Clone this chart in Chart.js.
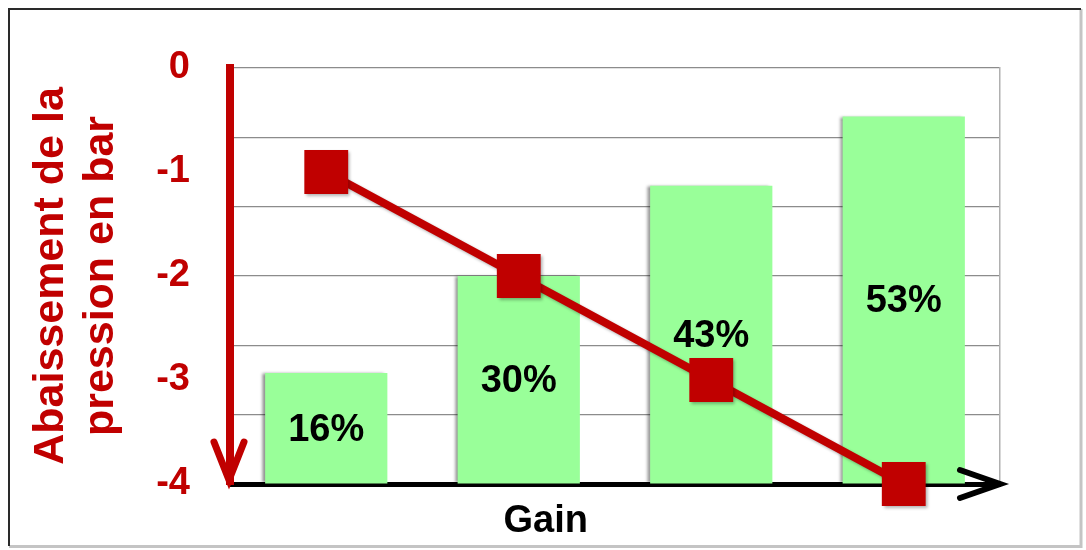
<!DOCTYPE html>
<html lang="fr">
<head>
<meta charset="utf-8">
<title>Gain et abaissement de la pression</title>
<script src="https://cdn.jsdelivr.net/npm/chart.js@4/dist/chart.umd.min.js"></script>
<style>
  html, body { margin: 0; padding: 0; background: #fff; }
  #wrap { width: 1086px; height: 550px; position: relative; }
</style>
</head>
<body>
<div id="wrap"><canvas id="chart" width="1086" height="550"></canvas></div>
<script>
(() => {
  // données
  const categories = ['Étape 1', 'Étape 2', 'Étape 3', 'Étape 4'];
  const gains = [16, 30, 43, 53];            // gain en %
  const pressure = [-1, -2, -3, -4];         // abaissement de la pression (bar)
  const pressureTicks = [0, -1, -2, -3, -4];

  const RED = '#C00000';
  const GREEN = '#99FF99';
  const FONT = '"Liberation Sans", Arial, sans-serif';

  // cadre extérieur + fond blanc
  const framePlugin = {
    id: 'frame',
    beforeDraw(chart) {
      const ctx = chart.ctx;
      ctx.save();
      ctx.fillStyle = '#fff';
      ctx.fillRect(0, 0, chart.width, chart.height);
      ctx.lineWidth = 3;
      ctx.strokeStyle = '#c4c4c4';
      ctx.beginPath();
      ctx.moveTo(1081, 9); ctx.lineTo(1081, 546.5); ctx.lineTo(9, 546.5);
      ctx.stroke();
      ctx.lineWidth = 2;
      ctx.strokeStyle = '#2a2a2a';
      ctx.beginPath();
      ctx.moveTo(9, 546); ctx.lineTo(9, 9); ctx.lineTo(1081, 9);
      ctx.stroke();
      ctx.restore();
    }
  };

  // ombre des barres, puis étiquettes de pourcentage
  const barDecor = {
    id: 'barDecor',
    beforeDatasetDraw(chart, args) {
      const ctx = chart.ctx;
      ctx.save();
      if (args.meta.type === 'bar') {
        ctx.shadowColor = 'rgba(0,0,0,0.45)';
        ctx.shadowOffsetX = -3;
        ctx.shadowOffsetY = 0;
        ctx.shadowBlur = 3;
      } else {
        ctx.shadowColor = 'rgba(0,0,0,0.3)';
        ctx.shadowOffsetX = 2;
        ctx.shadowOffsetY = 2;
        ctx.shadowBlur = 3;
      }
    },
    afterDatasetDraw(chart, args) {
      const ctx = chart.ctx;
      ctx.restore();
      if (args.meta.type !== 'bar') return;
      ctx.save();
      ctx.font = 'bold 38px ' + FONT;
      ctx.fillStyle = '#000';
      ctx.textAlign = 'center';
      ctx.textBaseline = 'middle';
      args.meta.data.forEach((bar, i) => {
        const p = bar.getProps(['x', 'y', 'base'], true);
        ctx.fillText(gains[i] + '%', p.x, (p.y + p.base) / 2 + 2);
      });
      ctx.restore();
    }
  };

  // flèches des axes et titre « Gain »
  const arrows = {
    id: 'arrows',
    afterDraw(chart) {
      const ctx = chart.ctx;
      const area = chart.chartArea;
      const x0 = chart.scales.yP.right - 1;
      ctx.save();
      ctx.lineCap = 'round';
      ctx.lineJoin = 'miter';
      // flèche verticale rouge vers le bas
      ctx.strokeStyle = RED;
      ctx.lineWidth = 7;
      ctx.beginPath();
      ctx.moveTo(x0 - 15, area.bottom - 42);
      ctx.lineTo(x0, area.bottom - 4);
      ctx.lineTo(x0 + 15, area.bottom - 42);
      ctx.stroke();
      // flèche horizontale noire
      ctx.strokeStyle = '#000';
      ctx.lineWidth = 6;
      ctx.beginPath();
      ctx.moveTo(area.right - 40, area.bottom - 14);
      ctx.lineTo(area.right, area.bottom);
      ctx.lineTo(area.right - 40, area.bottom + 14);
      ctx.stroke();
      // titre de l'axe horizontal
      ctx.font = 'bold 38px ' + FONT;
      ctx.fillStyle = '#000';
      ctx.textAlign = 'center';
      ctx.textBaseline = 'middle';
      ctx.fillText('Gain', area.left + area.width * 0.41, 522);
      ctx.restore();
    }
  };

  new Chart(document.getElementById('chart'), {
    data: {
      labels: categories,
      datasets: [
        {
          type: 'line',
          label: 'Abaissement de la pression',
          data: pressure,
          yAxisID: 'yP',
          borderColor: RED,
          backgroundColor: RED,
          borderWidth: 8,
          pointStyle: 'rect',
          pointRadius: 31,
          pointBorderWidth: 0,
          pointBackgroundColor: RED,
          tension: 0,
          clip: false,
          order: 0
        },
        {
          type: 'bar',
          label: 'Gain',
          data: gains,
          yAxisID: 'yGain',
          backgroundColor: GREEN,
          borderWidth: 0,
          categoryPercentage: 1,
          barPercentage: 0.635,
          order: 1
        }
      ]
    },
    options: {
      responsive: false,
      animation: false,
      layout: { padding: { left: 10, top: 68, right: 86, bottom: 0 } },
      plugins: { legend: { display: false }, tooltip: { enabled: false } },
      scales: {
        x: {
          type: 'category',
          offset: true,
          grid: { display: false, drawTicks: false },
          ticks: { display: false },
          border: { display: true, color: '#000', width: 5 },
          afterFit: s => { s.height = 66; }
        },
        yP: {
          position: 'left',
          min: -4,
          max: 0,
          afterBuildTicks: s => { s.ticks = pressureTicks.map(v => ({ value: v })); },
          grid: { display: false, drawTicks: false },
          border: { display: true, color: RED, width: 8 },
          ticks: {
            color: RED,
            padding: 40,
            font: { family: FONT, size: 38, weight: 'bold' }
          },
          title: {
            display: true,
            text: ['Abaissement de la', 'pression en bar'],
            color: RED,
            padding: { top: 16, bottom: 0 },
            font: { family: FONT, size: 43, weight: 'bold', lineHeight: 1.17 }
          },
          afterFit: s => { s.width = 220; }
        },
        yGain: {
          position: 'right',
          min: 0,
          max: 60,
          ticks: { display: false, stepSize: 10 },
          grid: { color: '#8c8c8c', lineWidth: 1.2, drawTicks: false },
          border: { display: true, color: '#b0b0b0', width: 1.5 },
          afterFit: s => { s.width = 0; }
        }
      }
    },
    plugins: [framePlugin, barDecor, arrows]
  });
})();
</script>
</body>
</html>
